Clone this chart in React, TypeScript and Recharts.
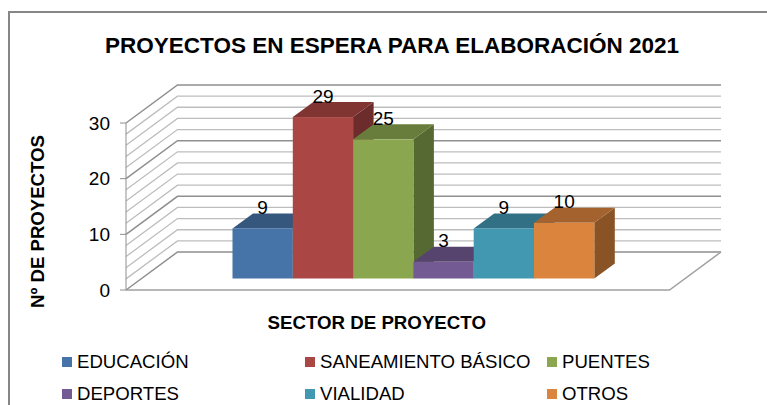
import { Bar, BarChart, CartesianGrid, LabelList, Legend, XAxis, YAxis } from "recharts";

const sectors = ["EDUCACIÓN", "SANEAMIENTO BÁSICO", "PUENTES", "DEPORTES", "VIALIDAD", "OTROS"];
const projects = [9, 29, 25, 3, 9, 10];
const colors = ["#4674a8", "#aa4644", "#8aa64f", "#745a92", "#4297b1", "#db843d"];
const yTicks = [0, 10, 20, 30];
const gridValues = [0, 2, 4, 6, 8, 10, 12, 14, 16, 18, 20, 22, 24, 26, 28, 30];

const row: Record<string, number | string> = { name: "" };
sectors.forEach((s, i) => {
  row[s] = projects[i];
});
const data = [row];

const FONT = "'Liberation Sans', Arial, sans-serif";

// depth of the fake 3D box: whole floor, then how far the bars sit inside it
const WALL_DX = 51.5;
const WALL_DY = -38;
const BAR_SHIFT_X = 15.5;
const BAR_SHIFT_Y = -11.5;
const BOX_DX = 20.5;
const BOX_DY = -15;

const shade = (hex: string, k: number) => {
  const n = parseInt(hex.slice(1), 16);
  const c = (v: number) => Math.round(v * k);
  return `rgb(${c((n >> 16) & 255)},${c((n >> 8) & 255)},${c(n & 255)})`;
};

const Box3D = (props: any) => {
  const { x, y, width, height, fill } = props;
  const l = x + BAR_SHIFT_X;
  const r = l + width;
  const t = y + BAR_SHIFT_Y;
  const b = t + height;
  return (
    <g>
      <polygon
        points={`${r},${t} ${r + BOX_DX},${t + BOX_DY} ${r + BOX_DX},${b + BOX_DY} ${r},${b}`}
        fill={shade(fill, 0.63)}
      />
      <polygon
        points={`${l},${t} ${l + BOX_DX},${t + BOX_DY} ${r + BOX_DX},${t + BOX_DY} ${r},${t}`}
        fill={shade(fill, 0.75)}
      />
      <rect x={l} y={t} width={width} height={height} fill={fill} />
    </g>
  );
};

const GridLine = (props: any) => {
  const { x1, x2, y1, index } = props;
  const major = gridValues[index] % 10 === 0;
  const stroke = major ? "#8f8f8f" : "#bdbdbd";
  const isFloor = gridValues[index] === 0;
  return (
    <g key={`grid-${index}`} fill="none">
      <polyline
        points={`${x1},${y1} ${x1 + WALL_DX},${y1 + WALL_DY} ${x2 + WALL_DX},${y1 + WALL_DY}`}
        stroke={stroke}
        strokeWidth={major ? 1.5 : 1.3}
      />
      {isFloor && (
        <polyline
          points={`${x1},${y1} ${x2},${y1} ${x2 + WALL_DX},${y1 + WALL_DY}`}
          stroke="#a0a0a0"
          strokeWidth={1.5}
        />
      )}
    </g>
  );
};

const BarValue = (props: any) => {
  const { x, y, width, value } = props;
  return (
    <text
      x={x + width / 2 + BAR_SHIFT_X}
      y={y + BAR_SHIFT_Y - 21}
      textAnchor="middle"
      dominantBaseline="central"
      fontSize={19}
      fontFamily={FONT}
      fill="#000"
    >
      {value}
    </text>
  );
};

const LegendGrid = ({ payload }: any) => (
  <div
    style={{
      display: "grid",
      gridTemplateColumns: "243px 242px 200px",
      gridAutoRows: "32px",
      paddingLeft: 62,
      fontFamily: FONT,
      fontSize: 18.6,
      lineHeight: "32px",
      color: "#000",
    }}
  >
    {(payload || []).map((item: any) => (
      <div key={item.value} style={{ display: "flex", alignItems: "center", whiteSpace: "nowrap" }}>
        <span style={{ width: 10, height: 10, background: item.color, marginRight: 5 }} />
        {item.value}
      </div>
    ))}
  </div>
);

export default function App() {
  return (
    <div style={{ position: "absolute", left: 0, top: 0, width: 767, height: 405, overflow: "hidden", background: "#fff" }}>
      <div
        style={{
          position: "absolute",
          left: 8,
          top: 11,
          width: 800,
          height: 500,
          borderLeft: "2px solid #868686",
          borderTop: "2px solid #868686",
        }}
      />
      <div style={{ position: "absolute", left: 0, top: 0 }}>
        <BarChart
          width={767}
          height={405}
          data={data}
          barGap={0}
          barSize={60.3}
          margin={{ top: 123, right: 97.5, bottom: 0, left: 0 }}
        >
          <text
            x={392}
            y={45}
            textAnchor="middle"
            dominantBaseline="central"
            fontSize={22.5}
            fontWeight="bold"
            fontFamily={FONT}
            fill="#000"
          >
            PROYECTOS EN ESPERA PARA ELABORACIÓN 2021
          </text>
          <CartesianGrid horizontal={GridLine} vertical={false} horizontalValues={gridValues} />
          <XAxis
            dataKey="name"
            height={45}
            tick={false}
            tickLine={false}
            axisLine={false}
            label={{
              value: "SECTOR DE PROYECTO",
              position: "center",
              dx: -21,
              dy: 9.5,
              fontSize: 18.7,
              fontWeight: "bold",
              fontFamily: FONT,
              fill: "#000",
            }}
          />
          <YAxis
            width={126}
            domain={[0, 30]}
            ticks={yTicks}
            tickSize={6}
            tickMargin={10}
            interval={0}
            stroke="#8f8f8f"
            tick={{ fontSize: 19, fontFamily: FONT, fill: "#000" }}
            label={{
              value: "Nº DE PROYECTOS",
              angle: -90,
              position: "center",
              dx: -26,
              dy: 15,
              fontSize: 18.6,
              fontWeight: "bold",
              fontFamily: FONT,
              fill: "#000",
            }}
          />
          <Legend
            verticalAlign="bottom"
            itemSorter={null}
            content={LegendGrid}
            wrapperStyle={{ left: 0, bottom: -11, width: 767, height: 70 }}
          />
          {sectors.map((s, i) => (
            <Bar key={s} dataKey={s} fill={colors[i]} shape={Box3D} isAnimationActive={false}>
              <LabelList dataKey={s} content={BarValue} />
            </Bar>
          ))}
        </BarChart>
      </div>
    </div>
  );
}
